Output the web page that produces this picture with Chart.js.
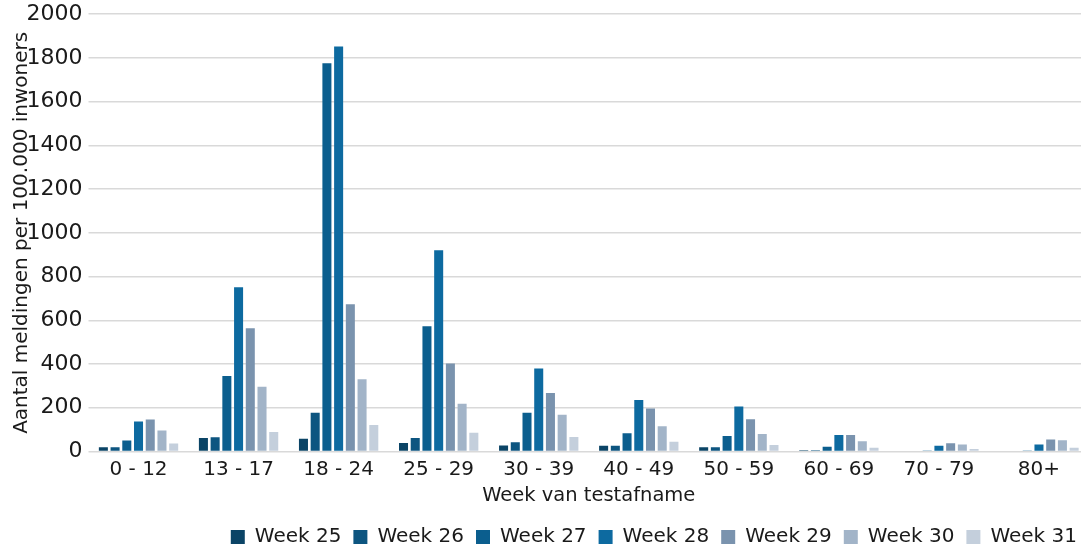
<!DOCTYPE html>
<html>
<head>
<meta charset="utf-8">
<script src="https://cdn.jsdelivr.net/npm/chart.js@4/dist/chart.umd.min.js"></script>
<style>
  html, body { margin: 0; padding: 0; background: #fff; overflow: hidden; }
  /* shifted up a little: the chart is cropped at the top like the source picture */
  #wrap { position: relative; top: -5px; width: 1089px; height: 562px; }
</style>
</head>
<body>
<div id="wrap"><canvas id="chart"></canvas></div>
<script>
// ── data ──
const ageGroups = ['0 - 12', '13 - 17', '18 - 24', '25 - 29', '30 - 39', '40 - 49', '50 - 59', '60 - 69', '70 - 79', '80+'];
const weekLabels = ['Week 25', 'Week 26', 'Week 27', 'Week 28', 'Week 29', 'Week 30', 'Week 31'];
const week25 = [20, 62, 58, 39, 28, 26, 20, 6, 0, 0];
const week26 = [20, 65, 177, 62, 42, 26, 20, 6, 0, 3];
const week27 = [50, 345, 1776, 573, 177, 83, 71, 22, 5, 5];
const week28 = [137, 751, 1852, 920, 380, 235, 206, 76, 26, 32];
const week29 = [146, 564, 673, 403, 267, 197, 147, 76, 38, 55];
const week30 = [96, 296, 331, 218, 168, 115, 80, 47, 32, 52];
const week31 = [37, 89, 121, 86, 66, 45, 30, 17, 11, 17];

const series = [week25, week26, week27, week28, week29, week30, week31];
const colors = ['#0b4466', '#0d5580', '#0b5e8e', '#0d6aa0', '#7a93ae', '#a2b4c8', '#c4cfdc'];

const FONT = 'DejaVu Sans, Verdana, sans-serif';
const INK = '#1a1a1a';

new Chart(document.getElementById('chart'), {
  type: 'bar',
  data: {
    labels: ageGroups,
    datasets: series.map((d, i) => ({
      label: weekLabels[i],
      data: d,
      backgroundColor: colors[i],
      borderWidth: 0,
      barPercentage: 0.77,
      categoryPercentage: 0.82
    }))
  },
  options: {
    responsive: true, maintainAspectRatio: false, animation: false,
    layout: { autoPadding: false, padding: { top: 4, right: 0, bottom: 0, left: 0 } },
    plugins: {
      tooltip: { enabled: false },
      legend: {
        position: 'bottom', align: 'end',
        labels: { color: INK, boxWidth: 14, boxHeight: 14, padding: 12, font: { family: FONT, size: 20 } }
      }
    },
    scales: {
      x: {
        afterFit(scale) { scale.height = 63.5; },
        grid: { display: false, drawTicks: false },
        border: { display: false },
        ticks: { color: INK, padding: 6, font: { family: FONT, size: 20 } },
        title: { display: true, text: 'Week van testafname', color: INK, padding: { top: 0, bottom: 7 }, font: { family: FONT, size: 19.5 } }
      },
      y: {
        min: 0, max: 2000,
        afterFit(scale) { scale.width = 88.5; },
        grid: { color: '#d9d9d9', lineWidth: 1.5, tickLength: 0 },
        border: { display: false },
        ticks: { stepSize: 200, color: INK, padding: 6, font: { family: FONT, size: 22 }, callback: v => String(v) },
        title: { display: true, text: 'Aantal meldingen per 100.000 inwoners', color: INK, padding: { top: 10, bottom: 0 }, font: { family: FONT, size: 20 } }
      }
    }
  }
});
</script>
</body>
</html>
